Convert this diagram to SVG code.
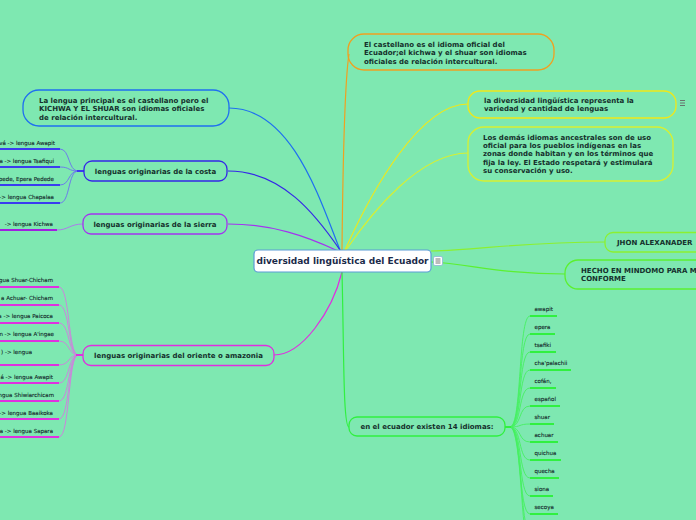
<svg xmlns="http://www.w3.org/2000/svg" width="696" height="520" viewBox="0 0 696 520">
<style>
.t{font-family:"DejaVu Sans",Verdana,sans-serif;font-weight:bold;font-size:7px;fill:#15302c}
.s{font-family:"DejaVu Sans",Verdana,sans-serif;font-size:5.5px;fill:#14282a;stroke:#14282a;stroke-width:0.12}
.n{fill:none;stroke-width:1.3}
.c{fill:none;stroke-width:1.2}
.ul{fill:none;stroke-width:2}
.cc{fill:none;stroke-width:0.9}
</style>
<rect x="0" y="0" width="696" height="520" fill="#7ee8b1"/>
<g id="connectors">
<path class="c" stroke="#1f6ff0" d="M229 108 C292 108 320 200 340 250"/>
<path class="c" stroke="#3526e8" d="M228 171 C282 171 316 215 340 250"/>
<path class="c" stroke="#a333f0" d="M228 224 C272 224 306 236 338 251"/>
<path class="c" stroke="#e02de0" d="M274 355 C302 355 332 312 342 272"/>
<path class="c" stroke="#f0a020" d="M342 250 C343 150 345 80 349 54"/>
<path class="c" stroke="#f0e818" d="M468 104 C420 104 372 190 345 250"/>
<path class="c" stroke="#d8f030" d="M468 153 C420 153 372 212 346 250"/>
<path class="c" stroke="#8cf030" d="M605 242 C520 242 480 250 431 251"/>
<path class="c" stroke="#5cf030" d="M565 274 C500 274 470 264 431 262"/>
<path class="c" stroke="#30f040" d="M342 272 C344 350 343 427 349 427"/>
<g stroke="#6a70f0">
<path class="cc" d="M60 149 C70 149 68 171 78 171"/>
<path class="cc" d="M60 167 C70 167 68 171 78 171"/>
<path class="cc" d="M60 185 C70 185 68 171 78 171"/>
<path class="cc" d="M60 203 C70 203 68 171 78 171"/>
</g>
<g stroke="#3a3cf0">
<path class="ul" d="M-5 149 H60 M-5 167 H60 M-5 185 H60 M-5 203 H60 M77 171 H84"/>
</g>
<path class="cc" stroke="#b070f0" d="M57 230 C68 230 70 224 83 224"/>
<path class="ul" stroke="#a020e0" d="M-5 230 H57"/>
<g stroke="#d27ae0">
<path class="cc" d="M59 287 C70 287 68 355 78 355"/>
<path class="cc" d="M59 305 C70 305 68 355 78 355"/>
<path class="cc" d="M59 323 C70 323 68 355 78 355"/>
<path class="cc" d="M59 341 C70 341 68 355 78 355"/>
<path class="cc" d="M59 365 C70 365 68 355 78 355"/>
<path class="cc" d="M59 383 C70 383 68 355 78 355"/>
<path class="cc" d="M59 401 C70 401 68 355 78 355"/>
<path class="cc" d="M59 419 C70 419 68 355 78 355"/>
<path class="cc" d="M59 437 C70 437 68 355 78 355"/>
</g>
<g stroke="#e030e0">
<path class="ul" d="M-5 287 H59 M-5 305 H59 M-5 323 H59 M-5 341 H59 M-5 365 H59 M-5 383 H59 M-5 401 H59 M-5 419 H59 M-5 437 H59 M76 355 H83"/>
</g>
<g stroke="#45f060">
<path class="cc" d="M510 427 C522 427 518 316 530 316"/>
<path class="cc" d="M510 427 C522 427 518 334 530 334"/>
<path class="cc" d="M510 427 C522 427 518 352 530 352"/>
<path class="cc" d="M510 427 C522 427 518 370 530 370"/>
<path class="cc" d="M510 427 C522 427 518 388 530 388"/>
<path class="cc" d="M510 427 C522 427 518 406 530 406"/>
<path class="cc" d="M510 427 C522 427 518 424 530 424"/>
<path class="cc" d="M510 427 C522 427 518 442 530 442"/>
<path class="cc" d="M510 427 C522 427 518 460 530 460"/>
<path class="cc" d="M510 427 C522 427 518 478 530 478"/>
<path class="cc" d="M510 427 C522 427 518 496 530 496"/>
<path class="cc" d="M510 427 C522 427 518 514 530 514"/>
<path class="cc" d="M510 427 C522 427 520 532 530 532"/>
<path class="cc" d="M510 427 C522 427 521 550 530 550"/>
</g>
<g stroke="#30f040">
<path class="ul" d="M530 316 H557 M530 334 H555 M530 352 H556 M530 370 H571 M530 388 H556 M530 406 H560 M530 424 H554 M530 442 H558 M530 460 H561 M530 478 H559 M530 496 H553 M530 514 H558 M505 427 H511"/>
</g>
</g>
<g id="center">
<rect x="254" y="250" width="177" height="22" rx="4" fill="#ffffff" stroke="#5b9bd5" stroke-width="1.2"/>
<text x="342.5" y="264" text-anchor="middle" class="t" style="font-size:9px;fill:#1b2a4a">diversidad lingüística del Ecuador</text>
<rect x="433.5" y="256.5" width="9" height="9" rx="1.5" fill="#ffffff" stroke="#8fb3d9" stroke-width="0.8"/>
<path d="M435.5 259 H440.5 M435.5 261 H440.5 M435.5 263 H440.5" stroke="#555" stroke-width="0.8"/>
</g>
<g id="n-principal">
<rect class="n" x="23" y="90" width="206" height="36" rx="16" stroke="#1f6ff0"/>
<text class="t" x="39"><tspan x="39" y="102.5">La lengua principal es el castellano pero el</tspan><tspan x="39" y="111">KICHWA Y EL SHUAR son idiomas oficiales</tspan><tspan x="39" y="119.5">de relación intercultural.</tspan></text>
</g>
<g id="n-costa">
<rect class="n" x="84" y="161" width="143" height="20" rx="8" stroke="#3526e8"/>
<text class="t" x="155.5" y="173.5" text-anchor="middle">lenguas originarias de la costa</text>
<text class="s" x="55" y="145" text-anchor="end">vá -&gt; lengua Awapit</text>
<text class="s" x="54" y="163" text-anchor="end">a -&gt; lengua Tsafiqui</text>
<text class="s" x="54" y="181" text-anchor="end">pede, Epera Pedede</text>
<text class="s" x="54" y="199" text-anchor="end">-&gt; lengua Chapalaa</text>
</g>
<g id="n-sierra">
<rect class="n" x="83" y="214" width="144" height="20" rx="8" stroke="#a333f0"/>
<text class="t" x="155" y="226.5" text-anchor="middle">lenguas originarias de la sierra</text>
<text class="s" x="53" y="226" text-anchor="end">-&gt; lengua  Kichwa</text>
</g>
<g id="n-amazonia">
<rect class="n" x="83" y="345.5" width="191" height="20" rx="8" stroke="#e02de0"/>
<text class="t" x="178.5" y="358" text-anchor="middle">lenguas originarias del oriente o amazonia</text>
<text class="s" x="53" y="282" text-anchor="end">gua Shuar-Chicham</text>
<text class="s" x="53" y="300" text-anchor="end">a Achuar- Chicham</text>
<text class="s" x="53" y="318" text-anchor="end">a -&gt; lengua Paicoca</text>
<text class="s" x="54" y="336" text-anchor="end">n -&gt; lengua A'ingae</text>
<text class="s" x="32" y="354" text-anchor="end">) -&gt; lengua</text>
<text class="s" x="53" y="379" text-anchor="end">á -&gt;  lengua Awapit</text>
<text class="s" x="54" y="397" text-anchor="end">ngua Shiwiarchicam</text>
<text class="s" x="53" y="415" text-anchor="end">-&gt; lengua Baaikoka</text>
<text class="s" x="53" y="433" text-anchor="end">a -&gt; lengua Sapara</text>
</g>
<g id="n-castellano">
<rect class="n" x="348" y="34" width="206" height="36" rx="16" stroke="#f0a020"/>
<text class="t"><tspan x="364" y="46.5">El castellano es el idioma oficial del</tspan><tspan x="364" y="55">Ecuador;el kichwa y el shuar son idiomas</tspan><tspan x="364" y="63.5">oficiales de relación intercultural.</tspan></text>
</g>
<g id="n-diversidad">
<rect class="n" x="468" y="91" width="208" height="27" rx="12" stroke="#f0e818"/>
<text class="t"><tspan x="484" y="102.8">la diversidad lingüística representa la</tspan><tspan x="484" y="111.2">variedad y cantidad de lenguas</tspan></text>
<path d="M680 100.5 H685 M680 103 H685 M680 105.5 H685" stroke="#666" stroke-width="0.9"/>
</g>
<g id="n-demas">
<rect class="n" x="468" y="127" width="205" height="54" rx="16" stroke="#d8f030"/>
<text class="t"><tspan x="483" y="139.5">Los demás idiomas ancestrales son de uso</tspan><tspan x="483" y="148">oficial para los pueblos indígenas en las</tspan><tspan x="483" y="156.4">zonas donde habitan y en los términos que</tspan><tspan x="483" y="164.8">fija la ley. El Estado respetará y estimulará</tspan><tspan x="483" y="173.2">su conservación y uso.</tspan></text>
</g>
<g id="n-jhon">
<rect class="n" x="605" y="232.5" width="110" height="19.5" rx="8" stroke="#8cf030"/>
<text class="t" x="617" y="244.8">JHON ALEXANADER</text>
</g>
<g id="n-hecho">
<rect class="n" x="565" y="260" width="150" height="29" rx="13" stroke="#5cf030"/>
<text class="t"><tspan x="581" y="272.5">HECHO EN MINDOMO PARA M</tspan><tspan x="581" y="281">CONFORME</tspan></text>
</g>
<g id="n-idiomas">
<rect class="n" x="349" y="417" width="156" height="19" rx="8" stroke="#30f040"/>
<text class="t" x="427" y="429" text-anchor="middle">en el ecuador existen 14 idiomas:</text>
</g>
<g id="idiomas-list">
<text class="s" x="534.5" y="311">awapit</text>
<text class="s" x="534.5" y="329">epera</text>
<text class="s" x="534.5" y="347">tsafiki</text>
<text class="s" x="534.5" y="365">cha'palachii</text>
<text class="s" x="534.5" y="383">cofán,</text>
<text class="s" x="534.5" y="401">español</text>
<text class="s" x="534.5" y="419">shuar</text>
<text class="s" x="534.5" y="437">achuar</text>
<text class="s" x="534.5" y="455">quichua</text>
<text class="s" x="534.5" y="473">quecha</text>
<text class="s" x="534.5" y="491">siona</text>
<text class="s" x="534.5" y="509">secoya</text>
</g>
</svg>
